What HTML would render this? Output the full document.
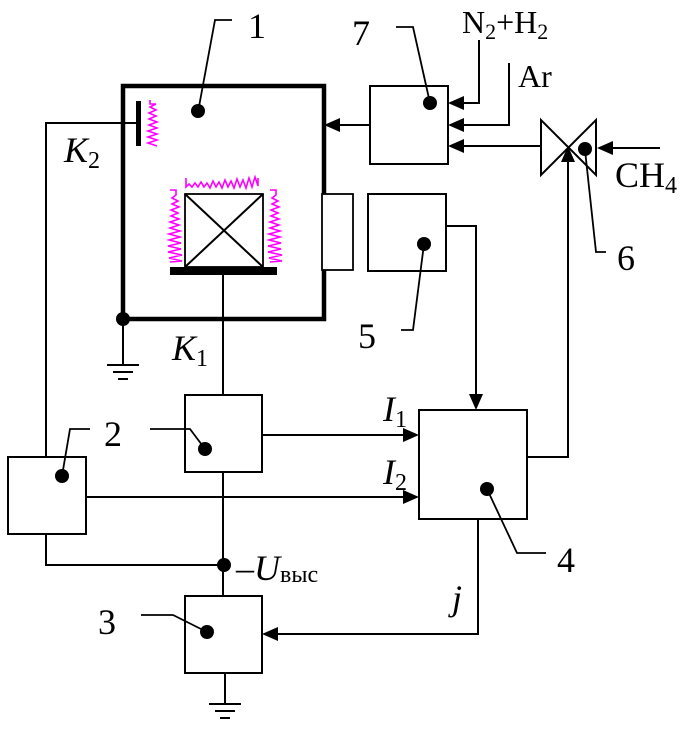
<!DOCTYPE html>
<html><head><meta charset="utf-8"><style>
html,body{margin:0;padding:0;background:#fff;}
svg{display:block;}
text{font-family:"Liberation Serif",serif;fill:#000;}
</style></head><body>
<svg width="684" height="731" viewBox="0 0 684 731" xmlns="http://www.w3.org/2000/svg">
<g fill="none" stroke="#000" stroke-width="2">
<rect x="123" y="86" width="201" height="233" stroke-width="4.5"/>
<rect x="322" y="194" width="31" height="76" fill="#fff" stroke-width="1.8"/>
<rect x="185" y="194" width="78" height="73" stroke-width="1.8"/>
<line x1="185" y1="194" x2="263" y2="267"/>
<line x1="263" y1="194" x2="185" y2="267"/>
<rect x="370" y="86" width="78" height="78"/>
<rect x="368" y="194" width="78" height="77"/>
<rect x="419" y="410" width="108" height="109"/>
<rect x="185" y="395" width="77" height="77"/>
<rect x="8" y="457" width="78" height="77"/>
<rect x="185" y="596" width="77" height="77"/>
<line x1="223" y1="275" x2="223" y2="395"/>
<line x1="223" y1="472" x2="223" y2="596"/>
<polyline points="46,457 46,123 136,123"/>
<polyline points="46,534 46,565 223,565"/>
<line x1="123" y1="319" x2="123" y2="365"/>
<line x1="225" y1="673" x2="225" y2="704"/>
<line x1="262" y1="435" x2="405" y2="435"/>
<line x1="86" y1="497" x2="405" y2="497"/>
<polyline points="478,519 478,634 276,634"/>
<polyline points="446,226 476,226 476,396"/>
<polyline points="527,457 568,457 568,162"/>
<line x1="370" y1="125" x2="338" y2="125"/>
<polyline points="479,40 479,103 462,103"/>
<polyline points="509,63 509,125 462,125"/>
<line x1="541" y1="146" x2="462" y2="146"/>
<line x1="660" y1="148" x2="610" y2="148"/>
<polygon points="541,120 541,175 596,120 596,175" stroke-width="2"/>
<polyline points="232,20 215,20 198,112" stroke-width="1.8"/>
<polyline points="396,27 413,27 430,103" stroke-width="1.8"/>
<polyline points="401,330 413,330 424,244" stroke-width="1.8"/>
<polyline points="606,252 596,252 585,150" stroke-width="1.8"/>
<polyline points="546,553 517,553 487,489" stroke-width="1.8"/>
<polyline points="150,429 190,429 205,449" stroke-width="1.8"/>
<polyline points="90,429 70,429 62,476" stroke-width="1.8"/>
<polyline points="141,615 173,615 207,632" stroke-width="1.8"/>
<line x1="107" y1="365" x2="139" y2="365"/>
<line x1="113" y1="372" x2="133" y2="372"/>
<line x1="118" y1="379" x2="128" y2="379"/>
<line x1="209" y1="704" x2="241" y2="704"/>
<line x1="215" y1="711" x2="235" y2="711"/>
<line x1="220" y1="718" x2="230" y2="718"/>
</g>
<rect x="136" y="101" width="5" height="45" fill="#000"/>
<rect x="170" y="267" width="107" height="8" fill="#000"/>
<g fill="#000">
<polygon points="324,125 340,118 340,132"/>
<polygon points="448,103 464,96 464,110"/>
<polygon points="448,125 464,118 464,132"/>
<polygon points="448,146 464,139 464,153"/>
<polygon points="597,148 613,141 613,155"/>
<polygon points="568,146 561,162 575,162"/>
<polygon points="476,410 469,394 483,394"/>
<polygon points="419,435 403,428 403,442"/>
<polygon points="419,497 403,490 403,504"/>
<polygon points="262,634 278,627 278,641"/>
<circle cx="198" cy="111" r="7"/>
<circle cx="430" cy="103" r="7"/>
<circle cx="585" cy="149" r="7"/>
<circle cx="424" cy="244" r="7"/>
<circle cx="487" cy="489" r="7"/>
<circle cx="205" cy="449" r="7"/>
<circle cx="62" cy="476" r="7"/>
<circle cx="207" cy="632" r="7"/>
<circle cx="224" cy="565" r="7"/>
<circle cx="123" cy="319" r="7"/>
</g>
<g fill="none" stroke="#ff00ff" stroke-width="1.6">
<polyline points="186,178 186,187 189,184 192,187 195,183 198,187 201,182 204,187 207,183 210,188 213,181 216,187 219,182 222,188 225,180 228,187 231,181 234,188 237,179 240,187 243,180 246,188 249,178 252,187 255,177 258,186 258,178"/>
<polyline points="170,190 176,190 176,195 172,198 178,201 172,204 179,207 171,210 178,213 171,216 179,219 170,222 179,225 170,228 180,231 169,234 180,237 169,240 181,243 168,246 181,249 168,252 182,255 169,258 182,261 170,262"/>
<polyline points="270,190 276,190 276,195 272,198 278,201 272,204 279,207 271,210 278,213 271,216 279,219 270,222 279,225 270,228 280,231 269,234 280,237 269,240 281,243 268,246 281,249 268,252 282,255 269,258 282,261 270,262"/>
<polyline points="150,100 150,104 156,104 150,107 156,110 149,113 156,116 149,119 157,122 149,125 157,128 148,131 157,134 148,137 157,140 148,143 157,146"/>
</g>
<g font-size="36">
<text x="248" y="38">1</text>
<text x="352" y="45">7</text>
<text x="104" y="446">2</text>
<text x="98" y="634">3</text>
<text x="557" y="572">4</text>
<text x="358" y="348">5</text>
<text x="617" y="270">6</text>
</g>
<g font-size="32">
<text x="462" y="33">N<tspan font-size="22" dy="6">2</tspan><tspan dy="-6">+H</tspan><tspan font-size="22" dy="6">2</tspan></text>
<text x="518" y="87">Ar</text>
</g>
<g font-size="36">
<text x="615" y="187">CH<tspan font-size="24" dy="6">4</tspan></text>
<text x="64" y="162" font-style="italic">K<tspan font-style="normal" font-size="24" dy="6">2</tspan></text>
<text x="172" y="360" font-style="italic">K<tspan font-style="normal" font-size="24" dy="6">1</tspan></text>
<text x="383" y="421" font-style="italic">I<tspan font-style="normal" font-size="24" dy="6">1</tspan></text>
<text x="383" y="484" font-style="italic">I<tspan font-style="normal" font-size="24" dy="6">2</tspan></text>
<text x="452" y="610" font-style="italic">j</text>
<text x="236" y="580">–<tspan font-style="italic">U</tspan><tspan font-size="24" dy="2">выс</tspan></text>
</g>
</svg>
</body></html>
